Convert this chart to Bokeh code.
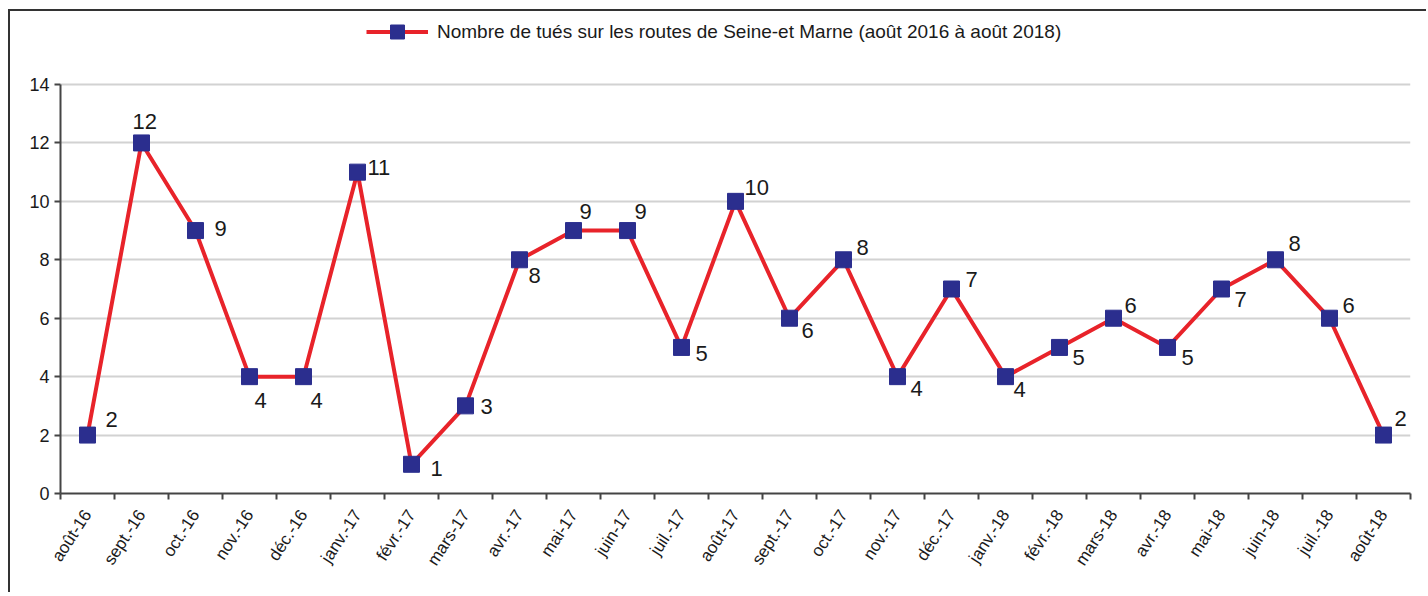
from bokeh.plotting import figure
from bokeh.models import ColumnDataSource, FixedTicker, Legend, LegendItem, Range1d
from bokeh.embed import file_html
from bokeh.resources import INLINE
from bokeh.core.properties import value

# ---- data ----
months = ["août-16", "sept.-16", "oct.-16", "nov.-16", "déc.-16", "janv.-17",
          "févr.-17", "mars-17", "avr.-17", "mai-17", "juin-17", "juil.-17",
          "août-17", "sept.-17", "oct.-17", "nov.-17", "déc.-17", "janv.-18",
          "févr.-18", "mars-18", "avr.-18", "mai-18", "juin-18", "juil.-18", "août-18"]
tues = [2, 12, 9, 4, 4, 11, 1, 3, 8, 9, 9, 5, 10, 6, 8, 4, 7, 4, 5, 6, 5, 7, 8, 6, 2]
y_ticks = [0, 2, 4, 6, 8, 10, 12, 14]
series_name = "Nombre de tués sur les routes de Seine-et Marne (août 2016 à août 2018)"

# ---- label placement (screen px, style only) ----
label_dx = [18, -9, 19, 5, 7, 10, 19, 15, 9, 6, 7, 14, 9, 12, 13, 13, 14, 8, 13, 11, 14, 13, 13, 13, 11]
label_dy = [-16, -21, -2, 24, 24, -5, 4, 1, 16, -19, -19, 6, -14, 12, -12, 12, -10, 13, 10, -13, 10, 10, -16, -13, -17]

FONT = "Liberation Sans"
RED = "#E8232A"
NAVY = "#2B2E8E"
TXT = "#1a1a1a"
AX = "#444444"

# layout (px)
FRAME_TOP_PAD = 3          # space above the plotting frame
AXIS_TOP_PX = 409          # height taken by the 0..14 value axis
FRAME_H = 479              # whole frame height (legend lives in its top part)
y_top = 14 * FRAME_H / AXIS_TOP_PX

xs = list(range(len(months)))
src = ColumnDataSource(dict(x=xs, y=tues, lbl=[str(v) for v in tues], dx=label_dx, dy=label_dy))

p = figure(width=1418, height=583, output_backend="svg", toolbar_location=None,
           x_range=Range1d(-0.5, len(months) - 0.5), y_range=Range1d(0, y_top),
           min_border_left=50, min_border_right=18, min_border_top=FRAME_TOP_PAD, min_border_bottom=101)
p.styles = {"margin-left": "8px", "margin-top": "9px",
            "border-left": "2px solid #333", "border-top": "2px solid #333"}
p.outline_line_color = None
p.background_fill_color = "white"
p.border_fill_color = "white"

# grid
p.xgrid.grid_line_color = None
p.ygrid.ticker = FixedTicker(ticks=y_ticks)
p.ygrid.grid_line_color = "#d2d2d2"
p.ygrid.grid_line_width = 2

# y axis
p.yaxis.ticker = FixedTicker(ticks=y_ticks)
p.yaxis.bounds = (0, 14)
p.yaxis.axis_line_color = AX
p.yaxis.axis_line_width = 2
p.yaxis.major_tick_line_color = AX
p.yaxis.major_tick_line_width = 2
p.yaxis.major_tick_in = 0
p.yaxis.major_tick_out = 6
p.yaxis.minor_tick_line_color = None
p.yaxis.major_label_text_font = FONT
p.yaxis.major_label_text_font_size = "18px"
p.yaxis.major_label_text_color = TXT
p.yaxis.major_label_standoff = 5

# x axis: labels at centres, ticks at boundaries
p.xaxis.ticker = FixedTicker(ticks=xs, minor_ticks=[i - 0.5 for i in range(len(months) + 1)])
p.xaxis.major_label_overrides = {i: m for i, m in zip(xs, months)}
p.xaxis.axis_line_color = AX
p.xaxis.axis_line_width = 2
p.xaxis.major_tick_line_color = None
p.xaxis.major_tick_in = 0
p.xaxis.major_tick_out = 6
p.xaxis.minor_tick_line_color = AX
p.xaxis.minor_tick_line_width = 2
p.xaxis.minor_tick_in = 0
p.xaxis.minor_tick_out = 6
p.xaxis.major_label_orientation = 0.995
p.xaxis.major_label_text_font = FONT
p.xaxis.major_label_text_font_size = "17px"
p.xaxis.major_label_text_color = TXT
p.xaxis.major_label_standoff = 12

# series
line_r = p.line("x", "y", source=src, line_color=RED, line_width=4)
sq_r = p.scatter("x", "y", source=src, marker="square", size=16, fill_color=NAVY, line_color=NAVY)

p.text("x", "y", text="lbl", source=src, x_offset="dx", y_offset="dy",
       text_font=value(FONT), text_font_size="22px", text_color=TXT,
       text_align="left", text_baseline="middle")

legend = Legend(items=[LegendItem(label=series_name, renderers=[line_r, sq_r])],
                location=(306, 444), orientation="horizontal",
                border_line_color=None, background_fill_alpha=0,
                padding=0, margin=0, glyph_width=62, glyph_height=35,
                label_standoff=9, label_text_font=FONT,
                label_text_font_size="19px", label_text_color=TXT)
p.add_layout(legend, "center")

open("out.html", "w").write(file_html(p, INLINE))
